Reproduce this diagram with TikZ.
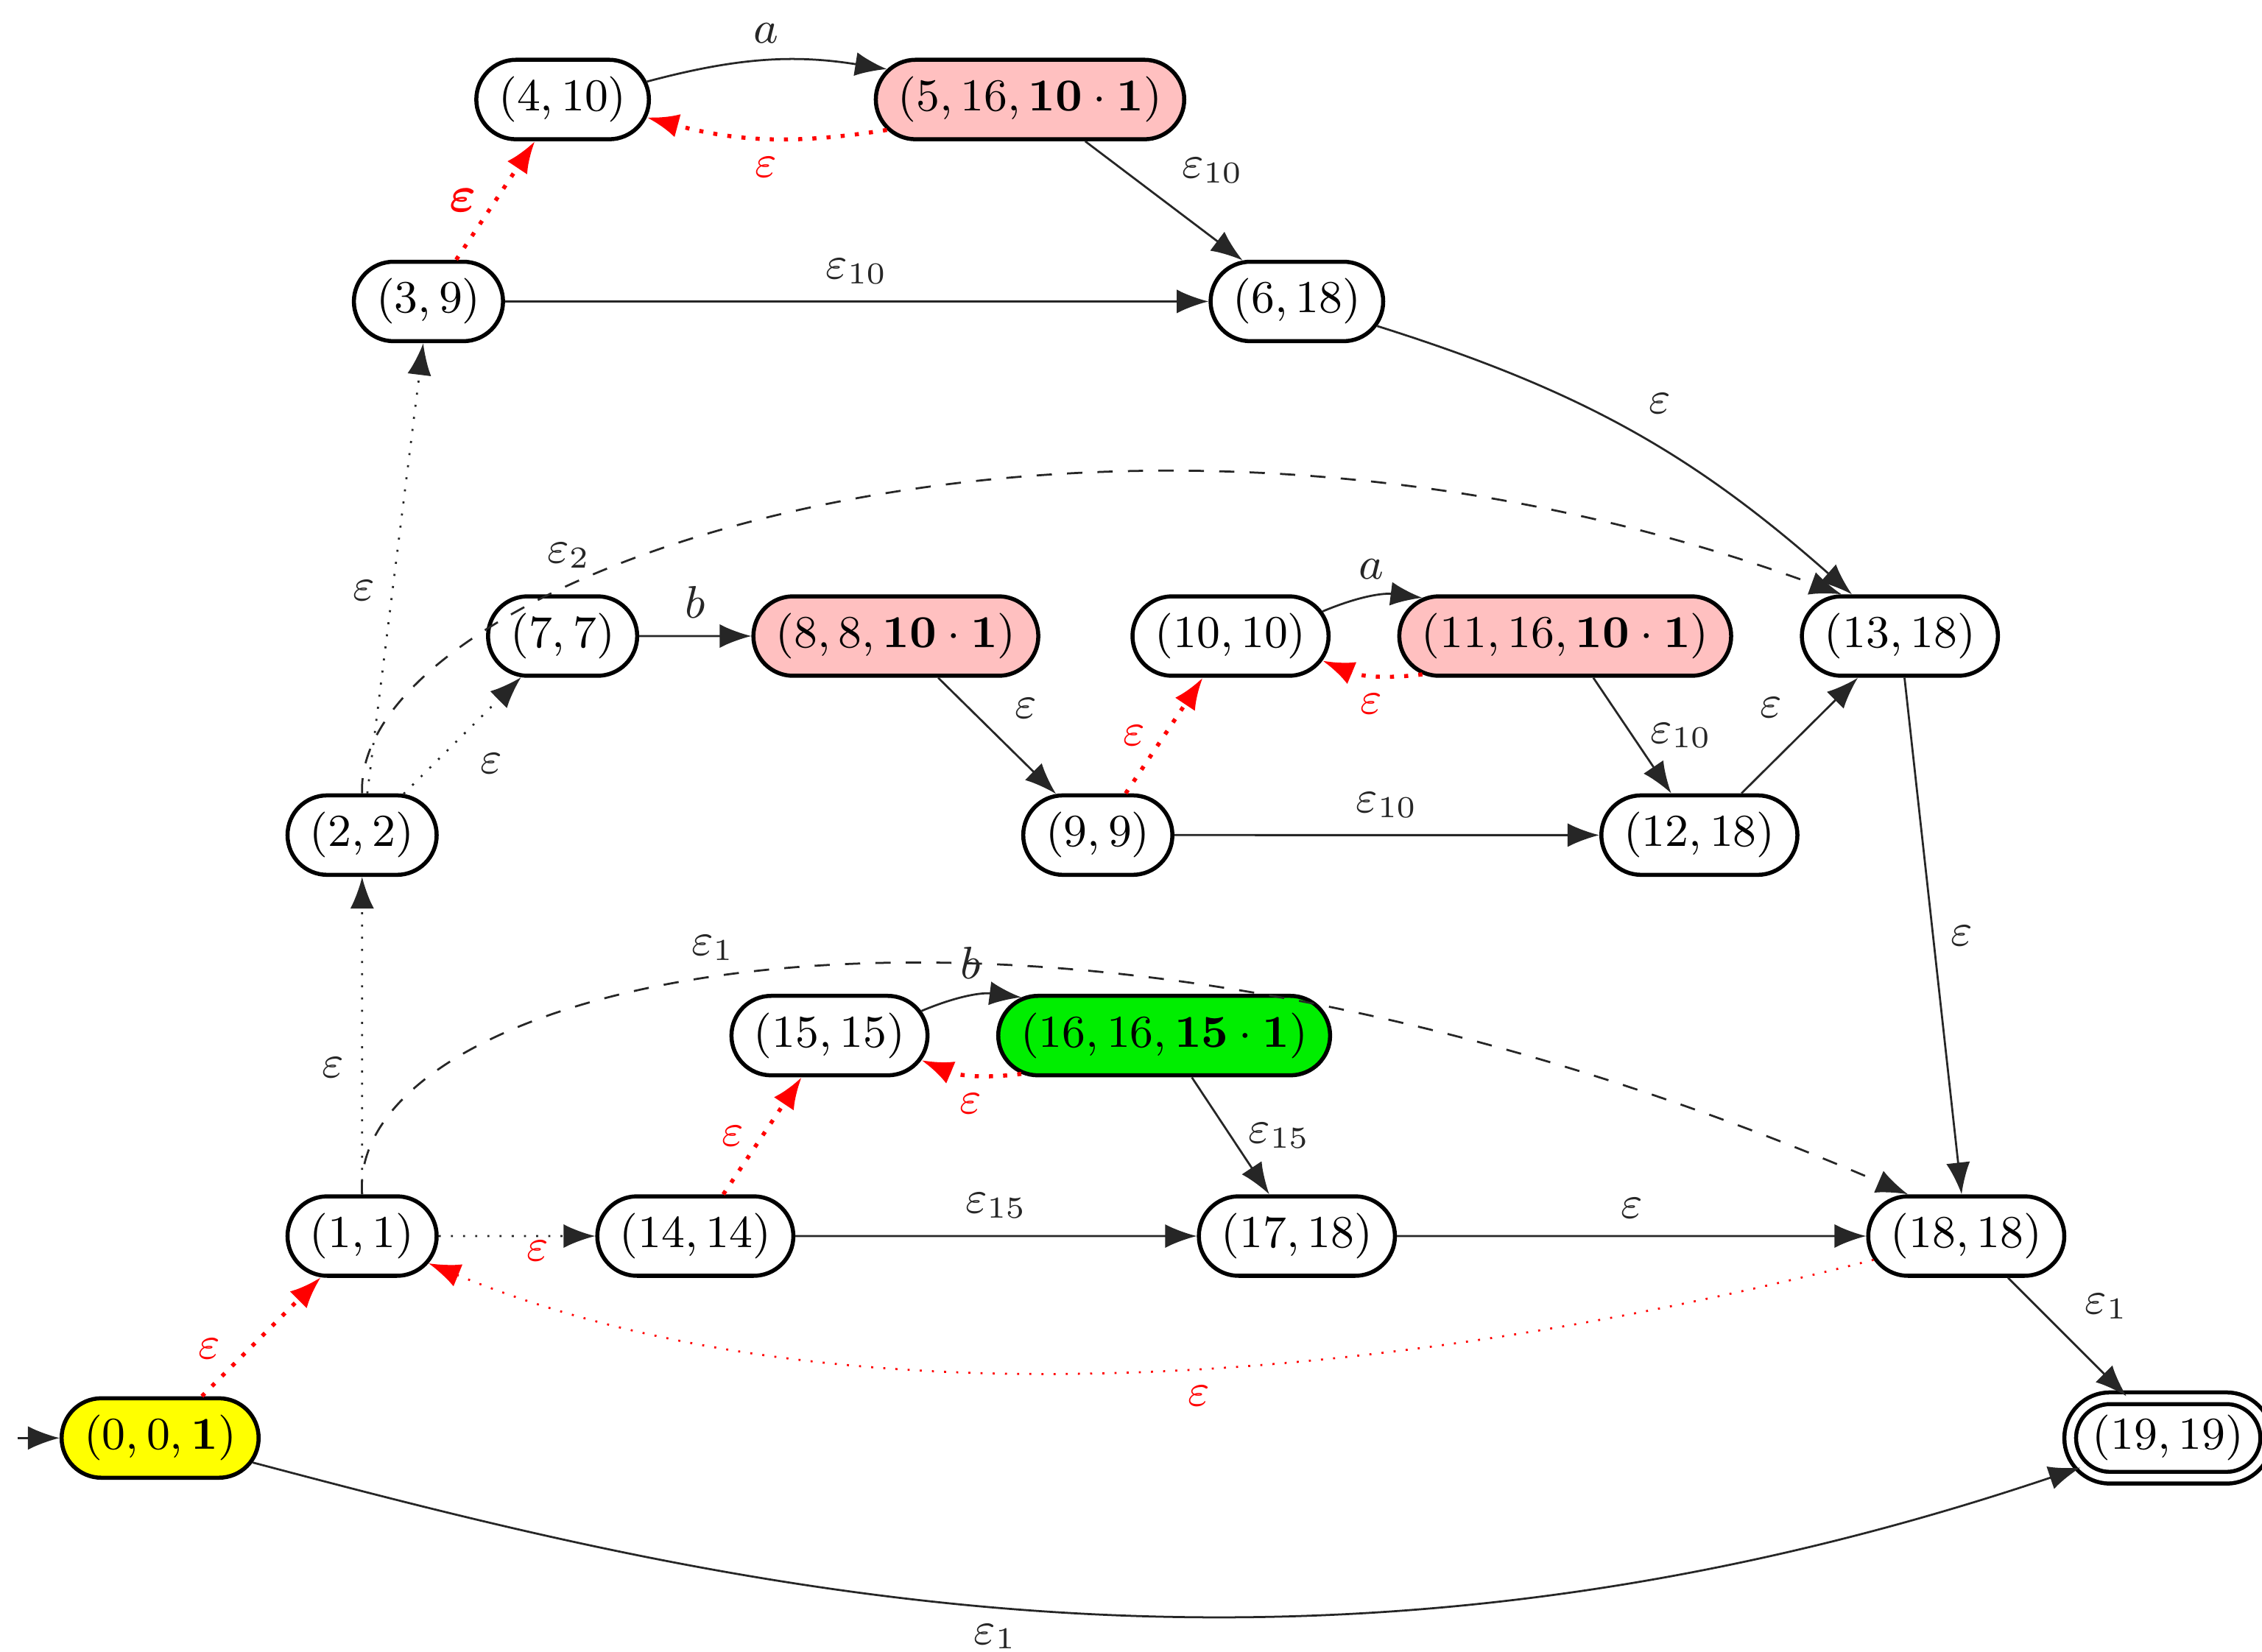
\documentclass[tikz,border=0pt]{standalone}
\usepackage{amsmath,bm}
\usetikzlibrary{arrows.meta,shapes.misc}
\definecolor{pinkf}{HTML}{FFC0C0}
\definecolor{greenf}{HTML}{00EE00}
\definecolor{yellowf}{HTML}{FFFF00}
\begin{document}
\begin{tikzpicture}[x=0.01cm,y=-0.01cm,
  st/.style={rounded rectangle,draw,thick,minimum height=0.5cm,inner xsep=3pt,font=\small},
  e/.style={-{Latex[length=2.2mm]},black!85},
  rd/.style={e,red,dotted,thick},
  bd/.style={e,dotted},
  lb/.style={font=\small}]
\useasboundingbox (0,0) rectangle (1568,1145);
\node[st,fill=yellowf] (n0) at (111,997) {$(0,0,\mathbf{1})$};
\node[st] (n1) at (251,857) {$(1,1)$};
\node[st] (n2) at (251,579) {$(2,2)$};
\node[st] (n3) at (297,209) {$(3,9)$};
\node[st] (n4) at (390,69) {$(4,10)$};
\node[st,fill=pinkf] (n5) at (714,69) {$(5,16,\mathbf{10}\cdot\mathbf{1})$};
\node[st] (n6) at (899,209) {$(6,18)$};
\node[st] (n7) at (390,441) {$(7,7)$};
\node[st,fill=pinkf] (n8) at (621,441) {$(8,8,\mathbf{10}\cdot\mathbf{1})$};
\node[st] (n9) at (761,579) {$(9,9)$};
\node[st] (n10) at (853,441) {$(10,10)$};
\node[st,fill=pinkf] (n11) at (1085,441) {$(11,16,\mathbf{10}\cdot\mathbf{1})$};
\node[st] (n12) at (1178,579) {$(12,18)$};
\node[st] (n13) at (1317,441) {$(13,18)$};
\node[st] (n14) at (482,857) {$(14,14)$};
\node[st] (n15) at (575,718) {$(15,15)$};
\node[st,fill=greenf] (n16) at (807,718) {$(16,16,\mathbf{15}\cdot\mathbf{1})$};
\node[st] (n17) at (899,857) {$(17,18)$};
\node[st] (n18) at (1363,857) {$(18,18)$};
\node[st,double,double distance=1.5pt] (n19) at (1503,997) {$(19,19)$};
\coordinate (ini) at (12,997);
\draw[e] (ini) -- (n0);
\draw[rd] (n0) -- node[lb,left,pos=0.4,xshift=-2pt] {$\varepsilon$} (n1);
\draw[e] (n0) .. controls (500,1100) and (900,1200) .. node[lb,below,pos=0.47] {$\varepsilon_1$} (n19);
\draw[bd] (n1) -- node[lb,left,pos=0.4] {$\varepsilon$} (n2);
\draw[bd] (n2) -- node[lb,left,pos=0.45] {$\varepsilon$} (n3);
\draw[rd] (n3) -- node[lb,left,font=\normalsize] {$\bm{\varepsilon}$} (n4);
\draw[e] (n4) to[bend left=12] node[lb,above] {$a$} (n5);
\draw[rd] (n5) to[bend left=12] node[lb,below] {$\varepsilon$} (n4);
\draw[e] (n5) -- node[lb,above right] {$\varepsilon_{10}$} (n6);
\draw[e] (n3) -- node[lb,above] {$\varepsilon_{10}$} (n6);
\draw[e] (n6) to[bend left=12] node[lb,above right] {$\varepsilon$} (n13);
\draw[e,dashed] (n2.north) .. controls (245,400) and (750,220) .. node[lb,above,pos=0.33] {$\varepsilon_2$} (n13.north west);
\draw[bd] (n2) -- node[lb,below right] {$\varepsilon$} (n7);
\draw[e] (n7) -- node[lb,above] {$b$} (n8);
\draw[e] (n8) -- node[lb,above right] {$\varepsilon$} (n9);
\draw[rd] (n9) -- node[lb,left] {$\varepsilon$} (n10);
\draw[e] (n10) to[bend left=15] node[lb,above] {$a$} (n11);
\draw[rd] (n11) to[bend left=15] node[lb,below] {$\varepsilon$} (n10);
\draw[e] (n11) -- node[lb,right] {$\varepsilon_{10}$} (n12);
\draw[e] (n9) -- node[lb,above] {$\varepsilon_{10}$} (n12);
\draw[e] (n12) -- node[lb,above left] {$\varepsilon$} (n13);
\draw[e] (n13) -- node[lb,right] {$\varepsilon$} (n18);
\draw[e,dashed] (n1.north) .. controls (240,680) and (700,560) .. node[lb,above,pos=0.45] {$\varepsilon_1$} (n18.north west);
\draw[bd] (n1) -- (n14);
\draw[rd] (n14) -- node[lb,left] {$\varepsilon$} (n15);
\draw[e] (n15) to[bend left=15] node[lb,above] {$b$} (n16);
\draw[rd] (n16) to[bend left=15] node[lb,below] {$\varepsilon$} (n15);
\draw[e] (n16) -- node[lb,right] {$\varepsilon_{15}$} (n17);
\draw[e] (n14) -- node[lb,above] {$\varepsilon_{15}$} (n17);
\draw[e] (n17) -- node[lb,above] {$\varepsilon$} (n18);
\draw[rd,thin] (n18) .. controls (1000,950) and (600,1000) .. node[lb,pos=0.97,above right,xshift=8pt] {$\varepsilon$} node[lb,below,pos=0.47] {$\varepsilon$} (n1);
\draw[e] (n18) -- node[lb,above right] {$\varepsilon_1$} (n19);
\end{tikzpicture}
\end{document}
